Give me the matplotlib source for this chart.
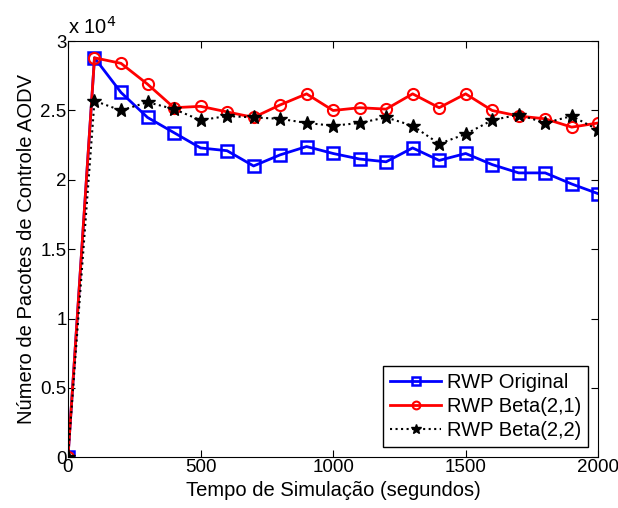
import matplotlib
matplotlib.use('Agg')
import matplotlib.pyplot as plt

plt.rcParams['font.family'] = ['Liberation Sans', 'DejaVu Sans']

tempo = [0, 100, 200, 300, 400, 500, 600, 700, 800, 900, 1000,
         1100, 1200, 1300, 1400, 1500, 1600, 1700, 1800, 1900, 2000]
# valores em unidades de 10^4
rwp_original = [0, 2.88, 2.63, 2.45, 2.34, 2.23, 2.21, 2.10, 2.18, 2.24, 2.19,
                2.15, 2.13, 2.23, 2.14, 2.19, 2.11, 2.05, 2.05, 1.97, 1.90]
rwp_beta21 = [0, 2.88, 2.84, 2.69, 2.52, 2.53, 2.49, 2.45, 2.54, 2.62, 2.50,
              2.52, 2.51, 2.62, 2.52, 2.62, 2.50, 2.46, 2.44, 2.38, 2.41]
rwp_beta22 = [0, 2.57, 2.50, 2.56, 2.51, 2.43, 2.46, 2.45, 2.44, 2.41, 2.39,
              2.41, 2.45, 2.39, 2.26, 2.33, 2.43, 2.47, 2.41, 2.46, 2.36]

fs = 14.5

fig = plt.figure(figsize=(6.18, 5.08), dpi=100)
ax = fig.add_axes([0.110, 0.100, 0.858, 0.819])

ax.plot(tempo, rwp_original, color='#0000ff', lw=2, marker='s', ms=9,
        mfc='none', mec='#0000ff', mew=1.8, label='RWP Original')
ax.plot(tempo, rwp_beta21, color='#ff0000', lw=2, marker='o', ms=8,
        mfc='none', mec='#ff0000', mew=1.5, label='RWP Beta(2,1)')
ax.plot(tempo, rwp_beta22, color='black', lw=1.5, ls=':', marker='*', ms=10,
        label='RWP Beta(2,2)')

ax.set_xlim(0, 2000)
ax.set_ylim(0, 3)
ax.set_xticks([0, 500, 1000, 1500, 2000])
ax.set_yticks([0, 0.5, 1, 1.5, 2, 2.5, 3])
ax.set_yticklabels(['0', '0.5', '1', '1.5', '2', '2.5', '3'])
ax.tick_params(direction='in', top=True, right=True, labelsize=13.5, length=5, pad=1)

ax.text(0.0, 1.008, r'x 10$^4$', transform=ax.transAxes,
        fontsize=fs, va='bottom', ha='left')

ax.set_xlabel('Tempo de Simulação (segundos)', fontsize=fs, labelpad=4)
ax.set_ylabel('Número de Pacotes de Controle AODV', fontsize=fs, labelpad=3)

leg = ax.legend(loc='lower right', fontsize=fs, fancybox=False,
                edgecolor='black', framealpha=1, handlelength=2.5,
                handletextpad=0.3, labelspacing=0.25, borderpad=0.35,
                borderaxespad=0.5, markerscale=0.7)
leg.get_frame().set_linewidth(1)

fig.savefig('out.png', dpi=100)
